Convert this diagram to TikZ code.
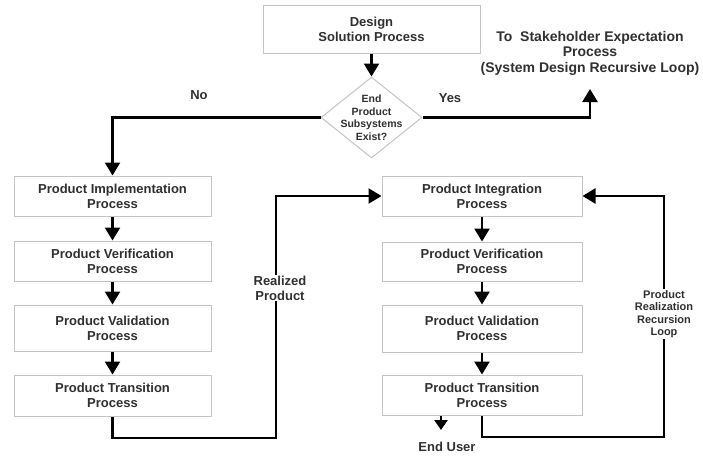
\documentclass[tikz,border=0pt]{standalone}
\usepackage{fontspec}
\setmainfont{Liberation Sans}
\usetikzlibrary{arrows.meta,shapes.geometric}
\definecolor{boxgray}{HTML}{C4C4C4}
\definecolor{txtgray}{HTML}{303030}
\begin{document}
\begin{tikzpicture}[x=1pt,y=-1pt,
  procbox/.style={draw=boxgray, line width=1pt, fill=white, rectangle, inner sep=0pt,
    align=center, text=txtgray, font=\fontsize{13}{15}\selectfont\bfseries},
  flow/.style={line width=2.5pt, -{Triangle[width=15pt,length=13pt]}},
  shortflow/.style={line width=2.5pt, -{Triangle[width=13pt,length=10pt]}},
  lbl/.style={text=txtgray, align=center, inner sep=1pt, font=\fontsize{13}{15}\selectfont\bfseries},
  smalllbl/.style={text=txtgray, align=center, inner sep=1pt, font=\fontsize{11}{12.5}\selectfont\bfseries}
]
\useasboundingbox (0,0) rectangle (703,463);

% top
\node[procbox, minimum width=217pt, minimum height=48pt] (top) at (371.5,29) {Design\\Solution Process};
\node[draw=boxgray, line width=1pt, fill=white, diamond, minimum width=101pt, minimum height=81pt, inner sep=0pt] (dec) at (371.5,117.5) {};
\node[smalllbl, font=\fontsize{10.5}{12.5}\selectfont\bfseries] (dectext) at (dec.center) {End\\Product\\Subsystems\\Exist?};

% left column
\node[procbox, minimum width=197pt, minimum height=40pt] (L1) at (112.5,196) {Product Implementation\\Process};
\node[procbox, minimum width=197pt, minimum height=40pt] (L2) at (112.5,261) {Product Verification\\Process};
\node[procbox, minimum width=197pt, minimum height=46pt] (L3) at (112.5,328) {Product Validation\\Process};
\node[procbox, minimum width=197pt, minimum height=41pt] (L4) at (112.5,395.5) {Product Transition\\Process};

% right column
\node[procbox, minimum width=200pt, minimum height=40pt] (R1) at (482,196) {Product Integration\\Process};
\node[procbox, minimum width=200pt, minimum height=39pt] (R2) at (482,261.5) {Product Verification\\Process};
\node[procbox, minimum width=200pt, minimum height=47pt] (R3) at (482,328.5) {Product Validation\\Process};
\node[procbox, minimum width=200pt, minimum height=40pt] (R4) at (482,395) {Product Transition\\Process};

% coordinates
\coordinate (yesend) at (590,89);
\coordinate (rp) at (276,438);
\coordinate (lp) at (664,437);
\coordinate (eu) at (441,430);

% connectors
\draw[flow] (top.south) -- (dec.north);
\draw[flow] (dec.west) -| (L1.north);
\draw[flow] (dec.east) -| (yesend);
\draw[flow] (L1.south) -- (L2.north);
\draw[flow] (L2.south) -- (L3.north);
\draw[flow] (L3.south) -- (L4.north);
\draw[flow] (R1.south) -- (R2.north);
\draw[flow] (R2.south) -- (R3.north);
\draw[flow] (R3.south) -- (R4.north);
\draw[flow] (L4.south) |- (rp) |- (R1.west);
\draw[flow] (R4.south) |- (lp) |- (R1.east);
\draw[shortflow] (R4.south -| eu) -- (eu);

% labels
\node[lbl] (no) at (199,95) {No};
\node[lbl] (yes) at (450,98) {Yes};
\node[lbl, font=\fontsize{14}{15.5}\selectfont\bfseries] (stake) at (590,53) {To\ \ Stakeholder Expectation\\Process\\(System Design Recursive Loop)};
\node[lbl, fill=white] (realized) at (280,288) {Realized\\Product};
\node[smalllbl, fill=white] (loop) at (664,314) {Product\\Realization\\Recursion\\Loop};
\node[lbl] (enduser) at (447,447) {End User};
\end{tikzpicture}
\end{document}
